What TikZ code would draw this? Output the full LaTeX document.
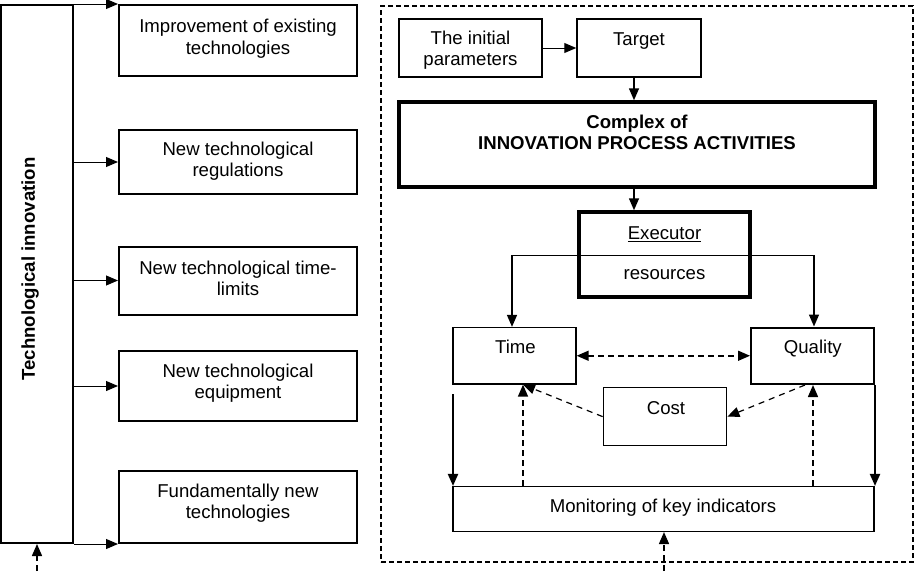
\documentclass[tikz,border=0pt]{standalone}
\usepackage{fontspec}
\setmainfont{Liberation Sans}
\usetikzlibrary{arrows.meta}
\begin{document}
\begin{tikzpicture}[x=1pt,y=-1pt,
  box/.style={draw, line width=1.5pt, inner sep=0pt},
  lbox/.style={draw, line width=2pt, inner sep=0pt},
  thickbox/.style={draw, line width=3.5pt, inner sep=0pt},
  txt/.style={align=center, inner sep=0pt, font=\fontsize{18.6}{21.5}\selectfont},
  tip/.tip={Triangle[length=12pt,width=10pt]},
  arr/.style={-tip, line width=1pt},
  dsh/.style={dash pattern=on 6pt off 4pt, line width=1.5pt},
  thindsh/.style={dash pattern=on 6pt off 5pt, line width=1.2pt}
]
\useasboundingbox (0,0) rectangle (915,571);

% ---------- left panel ----------
\node[lbox, minimum width=72pt, minimum height=538pt] (ti) at (37,274) {};
\node[txt, font=\fontsize{18.6}{21.5}\selectfont\bfseries, rotate=90] (tit) at (30,269) {Technological innovation};

\node[lbox, minimum width=238pt, minimum height=71pt] (b1) at (238,40.5) {};
\node[lbox, minimum width=238pt, minimum height=64pt] (b2) at (238,162) {};
\node[lbox, minimum width=238pt, minimum height=68pt] (b3) at (238,280.5) {};
\node[lbox, minimum width=238pt, minimum height=69.5pt] (b4) at (238,386) {};
\node[lbox, minimum width=238pt, minimum height=71.5pt] (b5) at (238,507) {};

\node[txt] (t1) at (238,38.5) {Improvement of existing\\technologies};
\node[txt] (t2) at (238,161) {New technological\\regulations};
\node[txt] (t3) at (238,278.5) {New technological time-\\limits};
\node[txt] (t4) at (238,383) {New technological\\equipment};
\node[txt] (t5) at (238,503) {Fundamentally new\\technologies};

\draw[arr] (ti.north east) -- (ti.north east -| b1.west);
\draw[arr] (ti.east |- b2.west) -- (b2.west);
\draw[arr] (ti.east |- b3.west) -- (b3.west);
\draw[arr] (ti.east |- b4.west) -- (b4.west);
\draw[arr] (ti.south east) -- (ti.south east -| b5.west);

\coordinate (bt) at (37,571);
\draw[dsh, arr, line width=1.5pt] (bt) -- (bt |- ti.south);

% ---------- right panel ----------
\node[draw, dash pattern=on 5pt off 3pt, line width=1.3pt, minimum width=532pt, minimum height=556pt, inner sep=0pt] (frame) at (647,284) {};

\node[box, minimum width=143pt, minimum height=58pt] (init) at (470.5,48) {};
\node[txt] (initt) at (470.5,50) {The initial\\parameters};

\node[box, minimum width=124pt, minimum height=58pt] (target) at (639,48) {};
\node[txt, anchor=base] (targett) at (639,45.8) {Target};

\node[thickbox, minimum width=476pt, minimum height=85pt] (complex) at (637,144.5) {};
\node[txt, font=\fontsize{18.6}{21.5}\selectfont\bfseries] (complext) at (637,132.5) {Complex of\\INNOVATION PROCESS ACTIVITIES};

\node[thickbox, minimum width=171pt, minimum height=85pt] (exec) at (664.5,254.5) {};
\node[txt, anchor=base] (exect) at (664.5,239.2) {\underline{Executor}};
\node[txt, anchor=base] (rest) at (664.5,279.7) {resources};

\node[box, line width=1.3pt, minimum width=123pt, minimum height=56.5pt] (time) at (514.5,355.75) {};
\node[txt, anchor=base] (timet) at (515.5,353.5) {Time};

\node[box, line width=2pt, minimum width=123pt, minimum height=56.5pt] (quality) at (812.5,355.75) {};
\node[txt, anchor=base] (qualityt) at (812.8,353.7) {Quality};

\node[box, line width=1.3pt, minimum width=123.5pt, minimum height=57.8pt] (cost) at (665,416.6) {};
\node[txt, anchor=base] (costt) at (666,414.3) {Cost};

\node[box, line width=1.3pt, minimum width=421pt, minimum height=44.8pt] (mon) at (663.5,509) {};
\node[txt, anchor=base] (mont) at (663,512.9) {Monitoring of key indicators};

% connectors
\draw[arr] (init.east) -- (target.west);
\coordinate (ax) at (634,0);
\draw[arr, line width=1.5pt] (target.south -| ax) -- (complex.north -| ax);
\draw[arr, line width=1.5pt] (complex.south -| ax) -- (exec.north -| ax);

\coordinate (rl) at (512,255);
\coordinate (rr) at (814,255);
\draw[line width=1pt] (rl) -- (rr);
\draw[arr, line width=1.5pt] (rl) -- (rl |- time.north);
\draw[arr, line width=1.5pt] (rr) -- (rr |- quality.north);

\draw[dsh, tip-tip] (time.east) -- (quality.west);

\coordinate (tb) at (523,0);
\coordinate (qb) at (813,0);
\coordinate (qc) at (805,0);
\draw[thindsh, arr, line width=1.2pt] (cost.west) -- (time.south -| tb);
\draw[thindsh, arr, line width=1.2pt] (quality.south -| qc) -- (cost.east);
\draw[dsh, arr, line width=1.5pt] (mon.north -| tb) -- (time.south -| tb);
\draw[dsh, arr, line width=1.5pt] (mon.north -| qb) -- (quality.south -| qb);

\coordinate (tl) at (453,394);
\draw[arr, line width=2pt] (tl) -- (tl |- mon.north);
\draw[arr, line width=2pt] (quality.south east) -- (quality.south east |- mon.north);

\coordinate (bm) at (664,571);
\draw[dsh, arr, line width=1.5pt] (bm) -- (bm |- mon.south);
\end{tikzpicture}
\end{document}
